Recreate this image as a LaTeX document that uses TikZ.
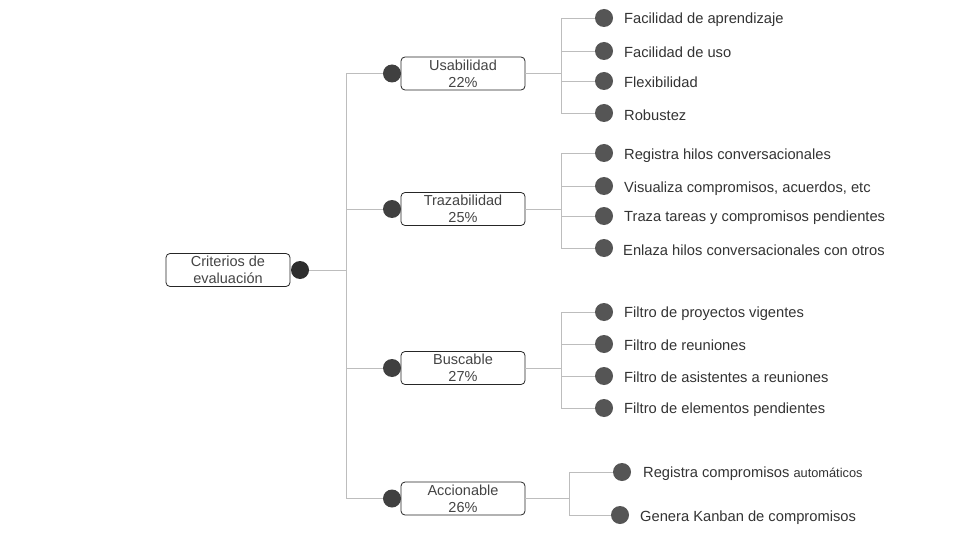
\documentclass[tikz,border=0pt]{standalone}
\usepackage{fontspec}
\setmainfont{Liberation Sans}
\begin{document}
\begin{tikzpicture}[x=1pt,y=-1pt,
  conn/.style={draw=linegray,line width=0.8pt},
  catbox/.style={draw=black!85,rounded corners=4pt,line width=0.8pt,minimum width=124pt,minimum height=33pt,inner sep=0pt,align=center,font=\fontsize{14.5}{17}\selectfont,text=boxtext},
  rootdotst/.style={circle,fill=dotroot,minimum size=18pt,inner sep=0pt},
  catdotst/.style={circle,fill=dotcat,minimum size=18pt,inner sep=0pt},
  leafdotst/.style={circle,fill=dotleaf,minimum size=18pt,inner sep=0pt},
  leaftext/.style={anchor=west,inner sep=0pt,yshift=-1.5pt,font=\fontsize{14.7}{17}\selectfont,text=leaftextc}
]
\definecolor{linegray}{HTML}{BDBDBD}
\definecolor{boxtext}{HTML}{444444}
\definecolor{leaftextc}{HTML}{333333}
\definecolor{dotroot}{HTML}{2E2E2E}
\definecolor{dotcat}{HTML}{404040}
\definecolor{dotleaf}{HTML}{555555}
\useasboundingbox (0,0) rectangle (960,540);

% root
\node[catbox] (root) at (228,270) {Criterios de\\evaluación};
\node[rootdotst] (rootdot) at (300,270) {};
\coordinate (tj) at (346,270);
\draw[conn] (rootdot.east) -- (tj);

% categories
\node[catbox] (c1) at (463,73.5) {Usabilidad\\22\%};
\node[catbox] (c2) at (463,209) {Trazabilidad\\25\%};
\node[catbox] (c3) at (463,368) {Buscable\\27\%};
\node[catbox] (c4) at (463,498.5) {Accionable\\26\%};
\node[catdotst] (d1) at (392,73.5) {};
\node[catdotst] (d2) at (392,209) {};
\node[catdotst] (d3) at (392,368) {};
\node[catdotst] (d4) at (392,498.5) {};
\foreach \i in {1,2,3,4} {\draw[conn] (d\i.west) -| (tj);}

% junctions
\coordinate (j1) at (561,73.5);
\coordinate (j2) at (561,209);
\coordinate (j3) at (561,368);
\coordinate (j4) at (569,498.5);
\foreach \i in {1,2,3,4} {\draw[conn] (c\i.east) -- (j\i);}

% Usabilidad leaves
\node[leafdotst] (l11) at (604,18) {};
\node[leafdotst] (l12) at (604,51) {};
\node[leafdotst] (l13) at (604,81) {};
\node[leafdotst] (l14) at (604,113) {};
\node[leaftext] (t11) at (624,18) {Facilidad de aprendizaje};
\node[leaftext] (t12) at (624,51) {Facilidad de uso};
\node[leaftext] (t13) at (624,81) {Flexibilidad};
\node[leaftext] (t14) at (624,114) {Robustez};
\foreach \k in {1,2,3,4} {\draw[conn] (l1\k.west) -| (j1);}

% Trazabilidad leaves
\node[leafdotst] (l21) at (604,153) {};
\node[leafdotst] (l22) at (604,186) {};
\node[leafdotst] (l23) at (604,216) {};
\node[leafdotst] (l24) at (604,248) {};
\node[leaftext] (t21) at (624,154) {Registra hilos conversacionales};
\node[leaftext] (t22) at (624,187) {Visualiza compromisos, acuerdos, etc};
\node[leaftext] (t23) at (624,216) {Traza tareas y compromisos pendientes};
\node[leaftext] (t24) at (623,249) {Enlaza hilos conversacionales con otros};
\foreach \k in {1,2,3,4} {\draw[conn] (l2\k.west) -| (j2);}

% Buscable leaves
\node[leafdotst] (l31) at (604,312) {};
\node[leafdotst] (l32) at (604,344) {};
\node[leafdotst] (l33) at (604,376) {};
\node[leafdotst] (l34) at (604,408) {};
\node[leaftext] (t31) at (624,312) {Filtro de proyectos vigentes};
\node[leaftext] (t32) at (624,344) {Filtro de reuniones};
\node[leaftext] (t33) at (624,376) {Filtro de asistentes a reuniones};
\node[leaftext] (t34) at (624,408) {Filtro de elementos pendientes};
\foreach \k in {1,2,3,4} {\draw[conn] (l3\k.west) -| (j3);}

% Accionable leaves
\node[leafdotst] (l41) at (622,472) {};
\node[leafdotst] (l42) at (620,515) {};
\node[leaftext] (t41) at (643,472) {Registra compromisos {\fontsize{12.8}{14}\selectfont automáticos}};
\node[leaftext] (t42) at (640,516) {Genera Kanban de compromisos};
\foreach \k in {1,2} {\draw[conn] (l4\k.west) -| (j4);}
\end{tikzpicture}
\end{document}
